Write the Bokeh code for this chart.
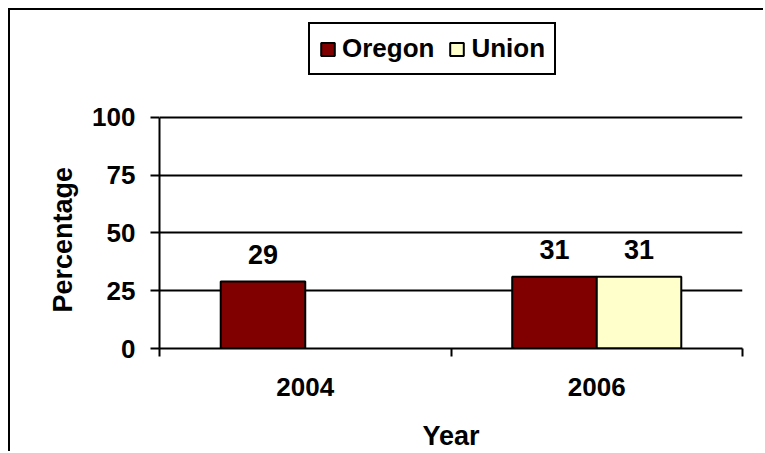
from bokeh.plotting import figure
from bokeh.models import (ColumnDataSource, Range1d, FixedTicker, Legend, LegendItem, Title)
from bokeh.transform import dodge
from bokeh.core.properties import value
from bokeh.embed import file_html
from bokeh.resources import INLINE

# ---- data ----
years = ["2004", "2006"]
oregon = [29, 31]
union = [None, 31]
y_ticks = [0, 25, 50, 75, 100]
y_max = 100

FONT = "Liberation Sans"
BAR_W = 0.29
FS = "26px"

xc = [i + 0.5 for i in range(len(years))]

src_or = ColumnDataSource(dict(
    x=[xc[i] for i, v in enumerate(oregon) if v is not None],
    v=[v for v in oregon if v is not None],
))
src_or.data["lab"] = [str(v) for v in src_or.data["v"]]
src_un = ColumnDataSource(dict(
    x=[xc[i] for i, v in enumerate(union) if v is not None],
    v=[v for v in union if v is not None],
))
src_un.data["lab"] = [str(v) for v in src_un.data["v"]]

# frame spans page y 10 .. 349 ; value 100 sits at page y 117
frame_top, axis_y, top100 = 10, 349, 117
y_end = y_max * (axis_y - frame_top) / (axis_y - top100)

p = figure(width=755, height=443, output_backend="svg", toolbar_location=None,
           x_range=Range1d(0, len(years)), y_range=Range1d(0, y_end),
           min_border_left=149, min_border_right=23,
           min_border_top=frame_top - 10, min_border_bottom=104)
p.styles = {"margin-left": "8px", "margin-top": "8px",
            "border-left": "2px solid black", "border-top": "2px solid black"}
p.outline_line_color = None
p.background_fill_color = "white"
p.border_fill_color = "white"

r_or = p.vbar(x=dodge("x", -BAR_W / 2), top="v", width=BAR_W, source=src_or,
              fill_color="#800000", line_color="black", line_width=2)
r_un = p.vbar(x=dodge("x", BAR_W / 2), top="v", width=BAR_W, source=src_un,
              fill_color="#FFFFCC", line_color="black", line_width=2)

for src, off in ((src_or, -BAR_W / 2), (src_un, BAR_W / 2)):
    p.text(x=dodge("x", off), y="v", text="lab", source=src,
           text_font=value(FONT), text_font_style="bold", text_font_size="27px",
           text_align="center", text_baseline="alphabetic", y_offset=-27,
           text_color="black")

# x axis
xa = p.xaxis[0]
xa.ticker = FixedTicker(ticks=xc, minor_ticks=list(range(len(years) + 1)))
xa.major_label_overrides = {x: y for x, y in zip(xc, years)}
xa.major_tick_line_color = None
xa.minor_tick_in = 0
xa.minor_tick_out = 8
xa.minor_tick_line_width = 2
xa.minor_tick_line_color = "black"
xa.axis_line_width = 2
xa.axis_line_color = "black"
xa.major_label_text_font = FONT
xa.major_label_text_font_style = "bold"
xa.major_label_text_font_size = FS
xa.major_label_text_color = "black"
xa.major_label_standoff = 21
xa.axis_label = "Year"
xa.axis_label_text_font = FONT
xa.axis_label_text_font_style = "bold"
xa.axis_label_text_font_size = "27px"
xa.axis_label_text_color = "black"
xa.axis_label_standoff = 22

# y axis
ya = p.yaxis[0]
ya.ticker = FixedTicker(ticks=y_ticks)
ya.bounds = (0, y_max)
ya.minor_tick_line_color = None
ya.major_tick_in = 0
ya.major_tick_out = 9
ya.major_tick_line_width = 2
ya.axis_line_width = 2
ya.axis_line_color = "black"
ya.major_label_text_font = FONT
ya.major_label_text_font_style = "bold"
ya.major_label_text_font_size = FS
ya.major_label_text_color = "black"
ya.major_label_standoff = 15

# y axis title, placed along the 0..100 span (text starts near the bottom)
ytitle = Title(text="Percentage", align="left", offset=36,
               text_font=FONT, text_font_style="bold", text_font_size="27px",
               text_color="black", standoff=24)
p.add_layout(ytitle, "left")

p.xgrid.grid_line_color = None
p.ygrid.ticker = FixedTicker(ticks=y_ticks)
p.ygrid.bounds = (0, y_max)
p.ygrid.grid_line_color = "black"
p.ygrid.grid_line_width = 2

legend = Legend(items=[LegendItem(label="Oregon", renderers=[r_or]),
                       LegendItem(label="Union", renderers=[r_un])],
                location=(149, axis_y - 76), orientation="horizontal",
                label_text_font=FONT, label_text_font_style="bold",
                label_text_font_size=FS, label_text_color="black",
                glyph_width=17, glyph_height=16, label_standoff=6,
                spacing=14, padding=9, margin=0,
                border_line_color="black", border_line_width=2,
                border_line_alpha=1,
                background_fill_color="white", background_fill_alpha=1)
p.add_layout(legend, "center")

open("out.html", "w").write(file_html(p, INLINE))
